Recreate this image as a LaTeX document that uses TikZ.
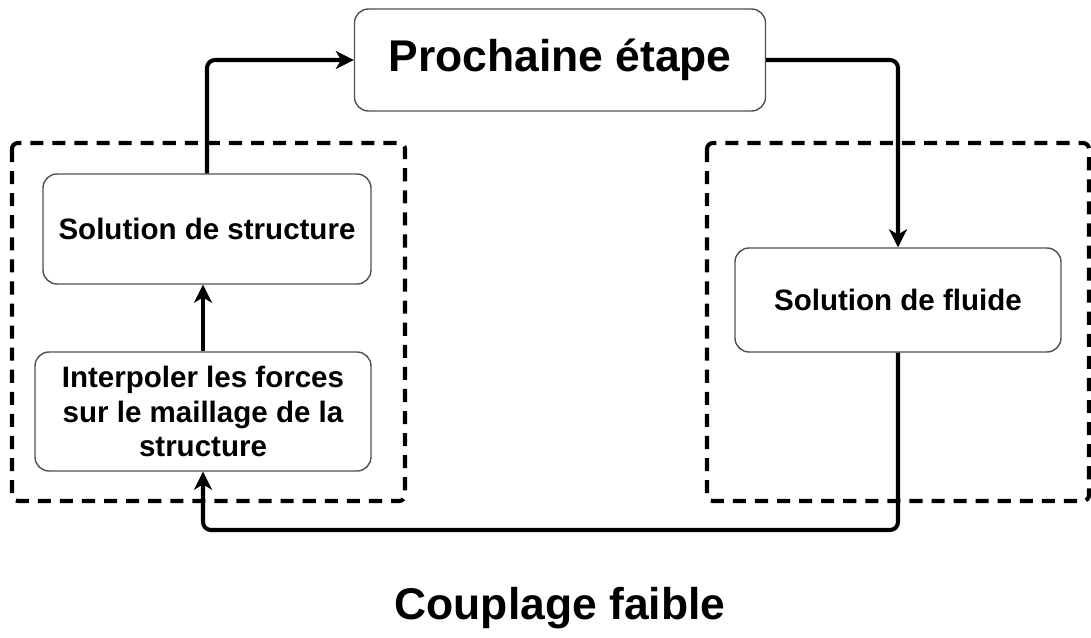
\documentclass[tikz,border=0pt]{standalone}
\usepackage{fontspec}
\setmainfont{Liberation Sans}
\usepackage{tikz}
\usetikzlibrary{arrows.meta,positioning}
\definecolor{cpborder}{RGB}{80,80,80}

\begin{document}
\begin{tikzpicture}[
  stepbox/.style={draw=cpborder, line width=1pt, fill=white, rounded corners=0.35cm, align=center, font=\fontsize{21}{24.5}\selectfont\bfseries},
  link/.style={line width=2.9pt, rounded corners=0.2cm, -{Stealth[length=0.45cm, width=0.45cm, inset=0.13cm]}},
  group/.style={line width=2.9pt, dash pattern=on 9.3pt off 6.4pt, rounded corners=0.15cm}
]
\useasboundingbox (0,0) rectangle (27.275,15.925);
% Dashed groups (structure left, fluid right)
\draw[group] (0.3,12.35) rectangle (10.125,3.4);
\draw[group] (17.675,12.35) rectangle (27.225,3.4);
% Boxes
\node[stepbox, minimum width=10.275cm, minimum height=2.55cm, font=\fontsize{31.6}{36}\selectfont\bfseries] (next) at (14.0,14.425) {Prochaine étape};
\node[stepbox, minimum width=8.2cm, minimum height=2.75cm] (struct) at (5.175,10.2) {Solution de structure};
\node[stepbox, minimum width=8.4cm, minimum height=2.975cm] (interp) at (5.075,5.6375) {Interpoler les forces\\sur le maillage de la\\structure};
\node[stepbox, minimum width=8.15cm, minimum height=2.6cm] (fluid) at (22.45,8.425) {Solution de fluide};
% Caption
\node[font=\fontsize{31.6}{36}\selectfont\bfseries] (caption) at (14.0,0.725) {Couplage faible};
% Connectors
\coordinate (back) at (14.0,2.675);
\draw[link] (struct.north) |- (next.west);
\draw[link] (next.east) -| (fluid.north);
\draw[link] (fluid.south) |- (back) -| (interp.south);
\draw[link] (interp.north) -- (interp.north |- struct.south);
\end{tikzpicture}
\end{document}
